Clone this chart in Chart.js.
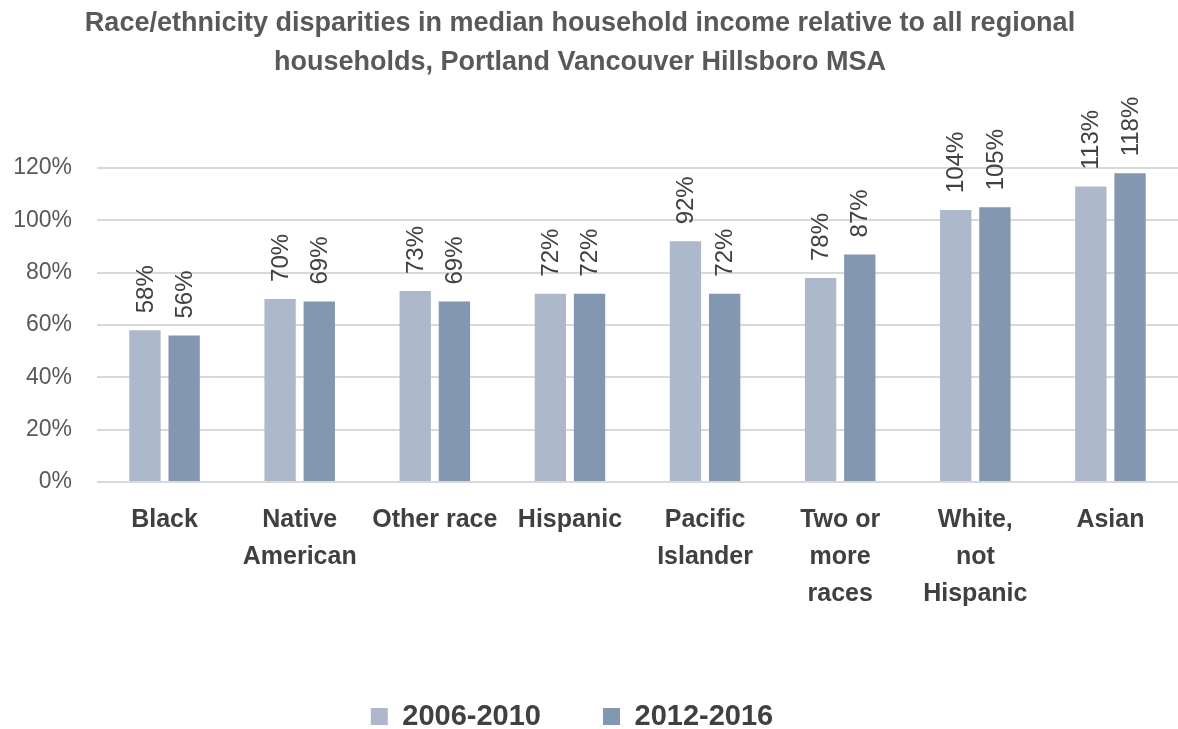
<!DOCTYPE html>
<html>
<head>
<meta charset="utf-8">
<script src="https://cdn.jsdelivr.net/npm/chart.js@4.4.1/dist/chart.umd.min.js"></script>
<style>
  html, body { margin: 0; padding: 0; background: #fff; }
  #wrap { width: 1178px; height: 729px; }
</style>
</head>
<body>
<div id="wrap"><canvas id="incomeChart" width="1178" height="729"></canvas></div>
<script>
// categories and series
const categories = [
  'Black',
  ['Native', 'American'],
  'Other race',
  'Hispanic',
  ['Pacific', 'Islander'],
  ['Two or', 'more', 'races'],
  ['White,', 'not', 'Hispanic'],
  'Asian'
];
const series2006 = [58, 70, 73, 72, 92, 78, 104, 113];
const series2012 = [56, 69, 69, 72, 72, 87, 105, 118];
const yTicks = [0, 20, 40, 60, 80, 100, 120];

const FONT = "'Liberation Sans', 'DejaVu Sans', sans-serif";

// vertical value labels above each bar
const barLabels = {
  id: 'barLabels',
  afterDatasetsDraw(chart) {
    const ctx = chart.ctx;
    ctx.save();
    ctx.font = '24px ' + FONT;
    ctx.fillStyle = '#404040';
    ctx.textAlign = 'left';
    ctx.textBaseline = 'middle';
    chart.data.datasets.forEach((ds, i) => {
      chart.getDatasetMeta(i).data.forEach((bar, j) => {
        ctx.save();
        ctx.translate(bar.x + 1, bar.y - 17);
        ctx.rotate(-Math.PI / 2);
        ctx.fillText(ds.data[j] + '%', 0, 0);
        ctx.restore();
      });
    });
    ctx.restore();
  }
};

// title and legend in the original sit a little left of centre
const nudge = {
  id: 'nudge',
  afterLayout(chart) {
    chart.legend.left -= 17;
    chart.legend.right -= 17;
    chart.titleBlock.left -= 9;
    chart.titleBlock.right -= 9;
  }
};

const ctx = document.getElementById('incomeChart').getContext('2d');
new Chart(ctx, {
  type: 'bar',
  data: {
    labels: categories,
    datasets: [
      {
        label: '2006-2010',
        data: series2006,
        backgroundColor: '#adb9ca'
      },
      {
        label: '2012-2016',
        data: series2012,
        backgroundColor: '#8497b0'
      }
    ]
  },
  options: {
    responsive: false,
    animation: false,
    devicePixelRatio: 1,
    categoryPercentage: 0.58,
    barPercentage: 0.8,
    layout: { padding: { top: 5, right: 0, left: 0, bottom: -12 } },
    plugins: {
      title: {
        display: true,
        text: ['Race/ethnicity disparities in median household income relative to all regional',
               'households, Portland Vancouver Hillsboro MSA'],
        color: '#595959',
        font: { family: FONT, size: 27, weight: 'bold', lineHeight: 1.41 },
        padding: { top: 0, bottom: 87 }
      },
      legend: {
        position: 'bottom',
        labels: {
          color: '#404040',
          font: { family: FONT, size: 29, weight: 'bold' },
          boxWidth: 17,
          boxHeight: 17,
          padding: 62
        }
      },
      tooltip: { enabled: false }
    },
    scales: {
      x: {
        grid: { display: false },
        border: { display: false },
        afterFit(axis) {
          axis.height = 158;
        },
        ticks: {
          color: '#404040',
          font: { family: FONT, size: 25, weight: 'bold', lineHeight: 1.47 },
          maxRotation: 0,
          autoSkip: false,
          padding: 12
        }
      },
      y: {
        min: 0,
        max: 120,
        afterBuildTicks(axis) {
          axis.ticks = yTicks.map(v => ({ value: v }));
        },
        afterFit(axis) {
          axis.width = 97;
        },
        grid: { color: '#d9d9d9', lineWidth: 2, drawTicks: false },
        border: { display: false },
        ticks: {
          color: '#595959',
          font: { family: FONT, size: 23 },
          padding: 25,
          callback: v => v + '%'
        }
      }
    }
  },
  plugins: [barLabels, nudge]
});
</script>
</body>
</html>
